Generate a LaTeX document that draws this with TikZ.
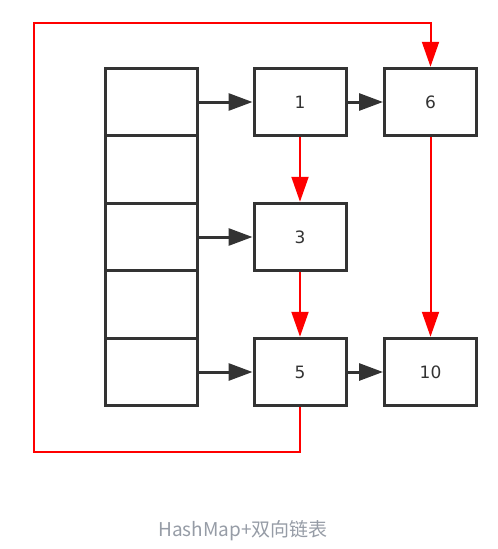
\documentclass[tikz,border=0pt]{standalone}
\usepackage{fontspec}
\setmainfont{DejaVu Sans}
\newfontfamily\cjkfont{Noto Sans CJK SC}
\usetikzlibrary{arrows.meta}
\definecolor{boxgray}{RGB}{51,51,51}
\definecolor{linkred}{RGB}{255,0,0}
\definecolor{captiongray}{RGB}{150,156,166}
\tikzset{
  cell/.style={draw=boxgray, line width=3pt, minimum width=92pt, minimum height=67.5pt, inner sep=0pt},
  entry/.style={cell, text=boxgray, font=\fontsize{17}{17}\selectfont},
  nextptr/.style={draw=boxgray, line width=3pt, -{Triangle[length=24pt,width=17pt]}},
  prevptr/.style={draw=linkred, line width=2pt, -{Triangle[length=25pt,width=17pt]}}
}
\begin{document}
\begin{tikzpicture}[x=1pt,y=-1pt]
    \useasboundingbox (0,0) rectangle (498,549);
    % hash table buckets
    \foreach \i in {1,...,5} { \node [cell] (b\i) at (151,{102+67.5*(\i-1)}) {}; }
    % list entries
    \node [entry] (n1) at (300,102) {1};
    \node [entry] (n6) at (430.5,102) {6};
    \node [entry] (n3) at (300,237) {3};
    \node [entry] (n5) at (300,372) {5};
    \node [entry] (n10) at (430.5,372) {10};
    % bucket pointers
    \draw [nextptr] (b1.east) -- (n1.west);
    \draw [nextptr] (b3.east) -- (n3.west);
    \draw [nextptr] (b5.east) -- (n5.west);
    \draw [nextptr] (n1.east) -- (n6.west);
    \draw [nextptr] (n5.east) -- (n10.west);
    % doubly linked order
    \draw [prevptr] (n1.south) -- (n3.north);
    \draw [prevptr] (n3.south) -- (n5.north);
    \draw [prevptr] (n6.south) -- (n10.north);
    \coordinate (loopcorner) at (34,23);
    \draw [prevptr] (n5.south) -- ++(0,45) -| (loopcorner) -| (n6.north);
    \node [text=captiongray, font=\cjkfont\fontsize{19}{19}\selectfont] (caption) at (243,531) {HashMap+双向链表};
\end{tikzpicture}
\end{document}
